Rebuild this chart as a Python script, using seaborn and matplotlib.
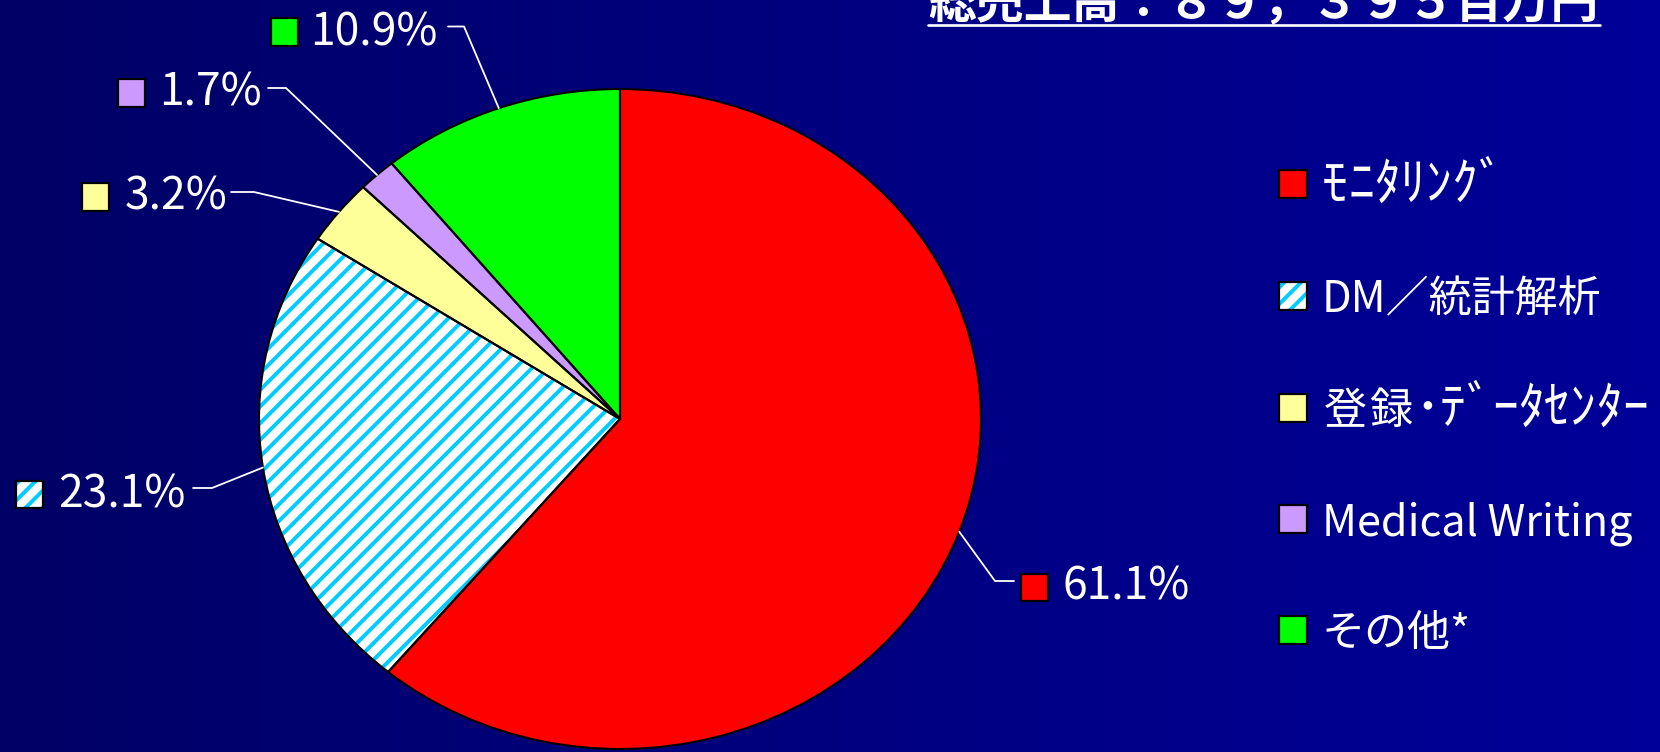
import numpy as np
import matplotlib
matplotlib.use("Agg")
import matplotlib.pyplot as plt
import seaborn as sns
from matplotlib.colors import LinearSegmentedColormap
from matplotlib.patches import Rectangle
from matplotlib.lines import Line2D

# --- data -------------------------------------------------------------
segments = ['ﾓﾆﾀﾘﾝｸﾞ', 'DM／統計解析', '登録･ﾃﾞｰﾀｾﾝﾀｰ', 'Medical Writing', 'その他*']
shares = [61.1, 23.1, 3.2, 1.7, 10.9]
share_labels = ['61.1%', '23.1%', '3.2%', '1.7%', '10.9%']
title = '総売上高：８９，３９５百万円'

# --- style ------------------------------------------------------------
sns.set_theme(style="white", rc={'hatch.linewidth': 2.8})
plt.rcParams['font.family'] = ['Noto Sans CJK JP', 'DejaVu Sans']

palette = sns.color_palette(['#FF0000', '#FFFFFF', '#FFFF99', '#CC99FF', '#00FF00'])
hatch_color = '#00CCFF'
hatched = 1  # DM slice is striped

W, H = 1660, 752
fig = plt.figure(figsize=(W / 100, H / 100), dpi=100)


def fxy(px, py):
    # pixel position measured from the top-left corner -> figure fraction
    return px / W, 1 - py / H


def is_halfwidth_kana(ch):
    return '\uff61' <= ch <= '\uff9f'


# background gradient
bg = fig.add_axes([0, 0, 1, 1], zorder=-5)
bg_cmap = LinearSegmentedColormap.from_list('bg', ['#000066', '#000099'])
bg.imshow(np.linspace(0, 1, 512)[None, :], cmap=bg_cmap, aspect='auto', extent=(0, 1, 0, 1))
bg.axis('off')

# pie (slightly wider than tall, like the original)
cx, cy, rx, ry = 620, 419, 361, 330
ax = fig.add_axes([(cx - rx) / W, 1 - (cy + ry) / H, 2 * rx / W, 2 * ry / H])
wedges, _ = ax.pie(shares, colors=palette, startangle=90, counterclock=False,
                   wedgeprops=dict(linewidth=0))
wedges[hatched].set_edgecolor(hatch_color)
wedges[hatched].set_hatch('//')
ax.pie(shares, colors=['none'] * len(shares), startangle=90, counterclock=False,
       wedgeprops=dict(edgecolor='black', linewidth=1.5, fill=False))
ax.set_aspect('auto')
ax.set_xlim(-1, 1)
ax.set_ylim(-1, 1)
ax.axis('off')


def swatch(px, py, i, size):
    x0, y0 = fxy(px - size / 2, py + size / 2)
    w, h = size / W, size / H
    if i == hatched:
        fig.add_artist(Rectangle((x0, y0), w, h, transform=fig.transFigure,
                                 facecolor='white', edgecolor=hatch_color,
                                 linewidth=0, hatch='//'))
    else:
        fig.add_artist(Rectangle((x0, y0), w, h, transform=fig.transFigure,
                                 facecolor=palette[i], edgecolor='none'))
    fig.add_artist(Rectangle((x0, y0), w, h, transform=fig.transFigure,
                             fill=False, edgecolor='black', linewidth=1.6))


# data labels with leader lines
box_pos = [(1034, 587), (29, 494), (95, 197), (131, 93), (284, 32)]
text_x = [1062, 58, 125, 159, 310]
elbow = [(995, 581), (212, 488), (254, 192), (286, 88), (464, 26.5)]
line_end = [(1014, 581), (193, 488), (231, 192), (268, 88), (448, 26.5)]

inv = fig.transFigure.inverted()
for i, w in enumerate(wedges):
    mid = np.deg2rad((w.theta1 + w.theta2) / 2)
    ex, ey = inv.transform(ax.transData.transform((np.cos(mid), np.sin(mid))))
    bx, by = fxy(*elbow[i])
    lx, ly = fxy(*line_end[i])
    fig.add_artist(Line2D([ex, bx, lx], [ey, by, ly], transform=fig.transFigure,
                          color='white', linewidth=1.3))
    swatch(box_pos[i][0], box_pos[i][1], i, 27)
    tx, ty = fxy(text_x[i], box_pos[i][1])
    fig.text(tx, ty, share_labels[i], color='white', fontsize=32,
             ha='left', va='center')

# legend on the right
legend_y = [184, 296, 408, 519, 630]
legend_size = 31
for i, name in enumerate(segments):
    swatch(1293, legend_y[i], i, 28)
    base = legend_y[i] + 16
    if any(is_halfwidth_kana(ch) for ch in name):
        # half-width katakana: lay out cell by cell, the narrow kana a bit larger
        x = 1322
        for ch in name:
            half = is_halfwidth_kana(ch)
            cell = 26 if half else 46
            tx, ty = fxy(x + cell / 2, base)
            fig.text(tx, ty, ch, color='white',
                     fontsize=legend_size * 1.2 if half else legend_size,
                     ha='center', va='baseline')
            x += cell
    else:
        tx, ty = fxy(1322, base)
        fig.text(tx, ty, name, color='white', fontsize=legend_size,
                 ha='left', va='baseline')

# title (cut off at the top edge) with underline
tx, ty = fxy(928, 17)
fig.text(tx, ty, title, color='white', fontsize=34.5, fontweight='bold',
         ha='left', va='baseline')
fig.add_artist(Line2D([928 / W, 1600 / W], [1 - 24.5 / H] * 2,
                      transform=fig.transFigure, color='white', linewidth=1.9))

fig.savefig('out.png', dpi=100)
